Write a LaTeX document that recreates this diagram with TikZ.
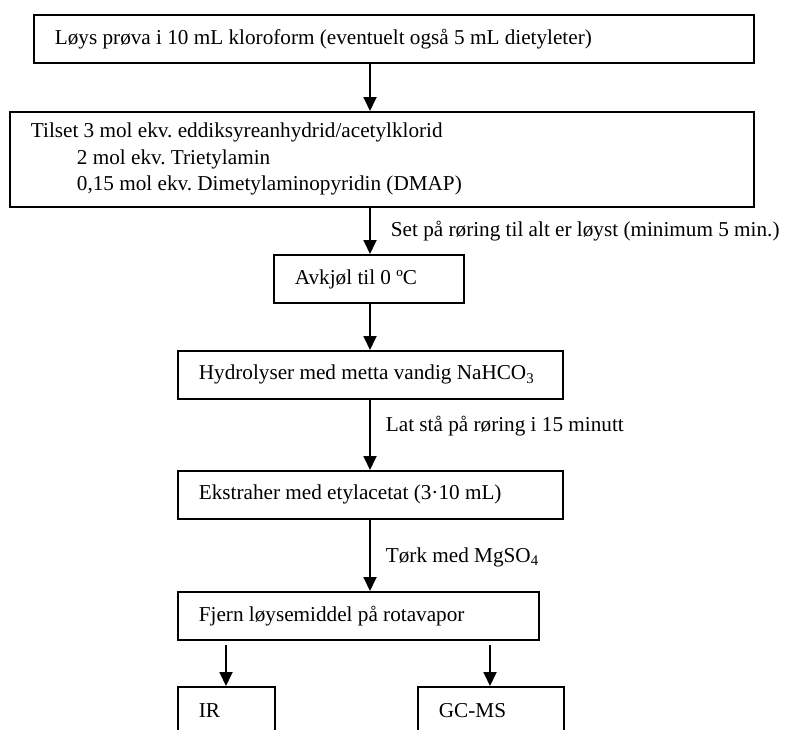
\documentclass[tikz,border=0pt]{standalone}
\usepackage{fontspec}
\setmainfont{Liberation Serif}
\usetikzlibrary{arrows.meta}
\begin{document}
\begin{tikzpicture}[x=1pt,y=-1pt,
  txt/.style={font=\fontsize{21.2}{26.5}\selectfont\frenchspacing},
  box/.style={txt, draw, line width=1.8pt, inner xsep=21pt, inner ysep=0pt,
    anchor=north west, align=flush left, minimum height=48pt},
  flow/.style={line width=1.8pt, -{Triangle[width=13pt,length=14pt]}},
  note/.style={txt, anchor=west, inner sep=0pt}]
\useasboundingbox (0,0) rectangle (786,729);
\clip (0,0) rectangle (786,729);

% process boxes (top-left corner, width given through text width)
\node[box, text width=678pt] (b1) at (33,14)
  {Løys prøva i 10 mL kloroform (eventuelt også 5 mL dietyleter)};
\node[box, text width=702pt, minimum height=95pt] (b2) at (9,111)
  {Tilset 3 mol ekv. eddiksyreanhydrid/acetylklorid\\
   \hspace*{46pt}2 mol ekv. Trietylamin\\
   \hspace*{46pt}0,15 mol ekv. Dimetylaminopyridin (DMAP)};
\node[box, text width=148pt] (b3) at (273,254) {Avkjøl til 0 ºC};
\node[box, text width=343pt] (b4) at (177,350)
  {Hydrolyser med metta vandig NaHCO\textsubscript{3}};
\node[box, text width=343pt] (b5) at (177,470)
  {Ekstraher med etylacetat (3·10 mL)};
\node[box, text width=319pt] (b6) at (177,591)
  {Fjern løysemiddel på rotavapor};
\node[box, text width=55pt] (ir) at (177,686) {IR};
\node[box, text width=104pt] (gc) at (417,686) {GC-MS};

% main chain
\draw[flow] (b1.south -| 370,0) -- (b2.north -| 370,0);
\draw[flow] (b2.south -| 370,0) -- node[pos=0.5, note, xshift=20pt]
  {Set på røring til alt er løyst (minimum 5 min.)} (b3.north -| 370,0);
\draw[flow] (b3.south -| 370,0) -- (b4.north -| 370,0);
\draw[flow] (b4.south -| 370,0) -- node[pos=0.38, note, xshift=15pt]
  {Lat stå på røring i 15 minutt} (b5.north -| 370,0);
\draw[flow] (b5.south -| 370,0) -- node[pos=0.53, note, xshift=15pt]
  {Tørk med MgSO\textsubscript{4}} (b6.north -| 370,0);

% split to the two analyses
\coordinate (s1) at (226,645);
\coordinate (s2) at (490,645);
\draw[flow] (s1) -- (ir.north -| s1);
\draw[flow] (s2) -- (gc.north -| s2);
\end{tikzpicture}
\end{document}
